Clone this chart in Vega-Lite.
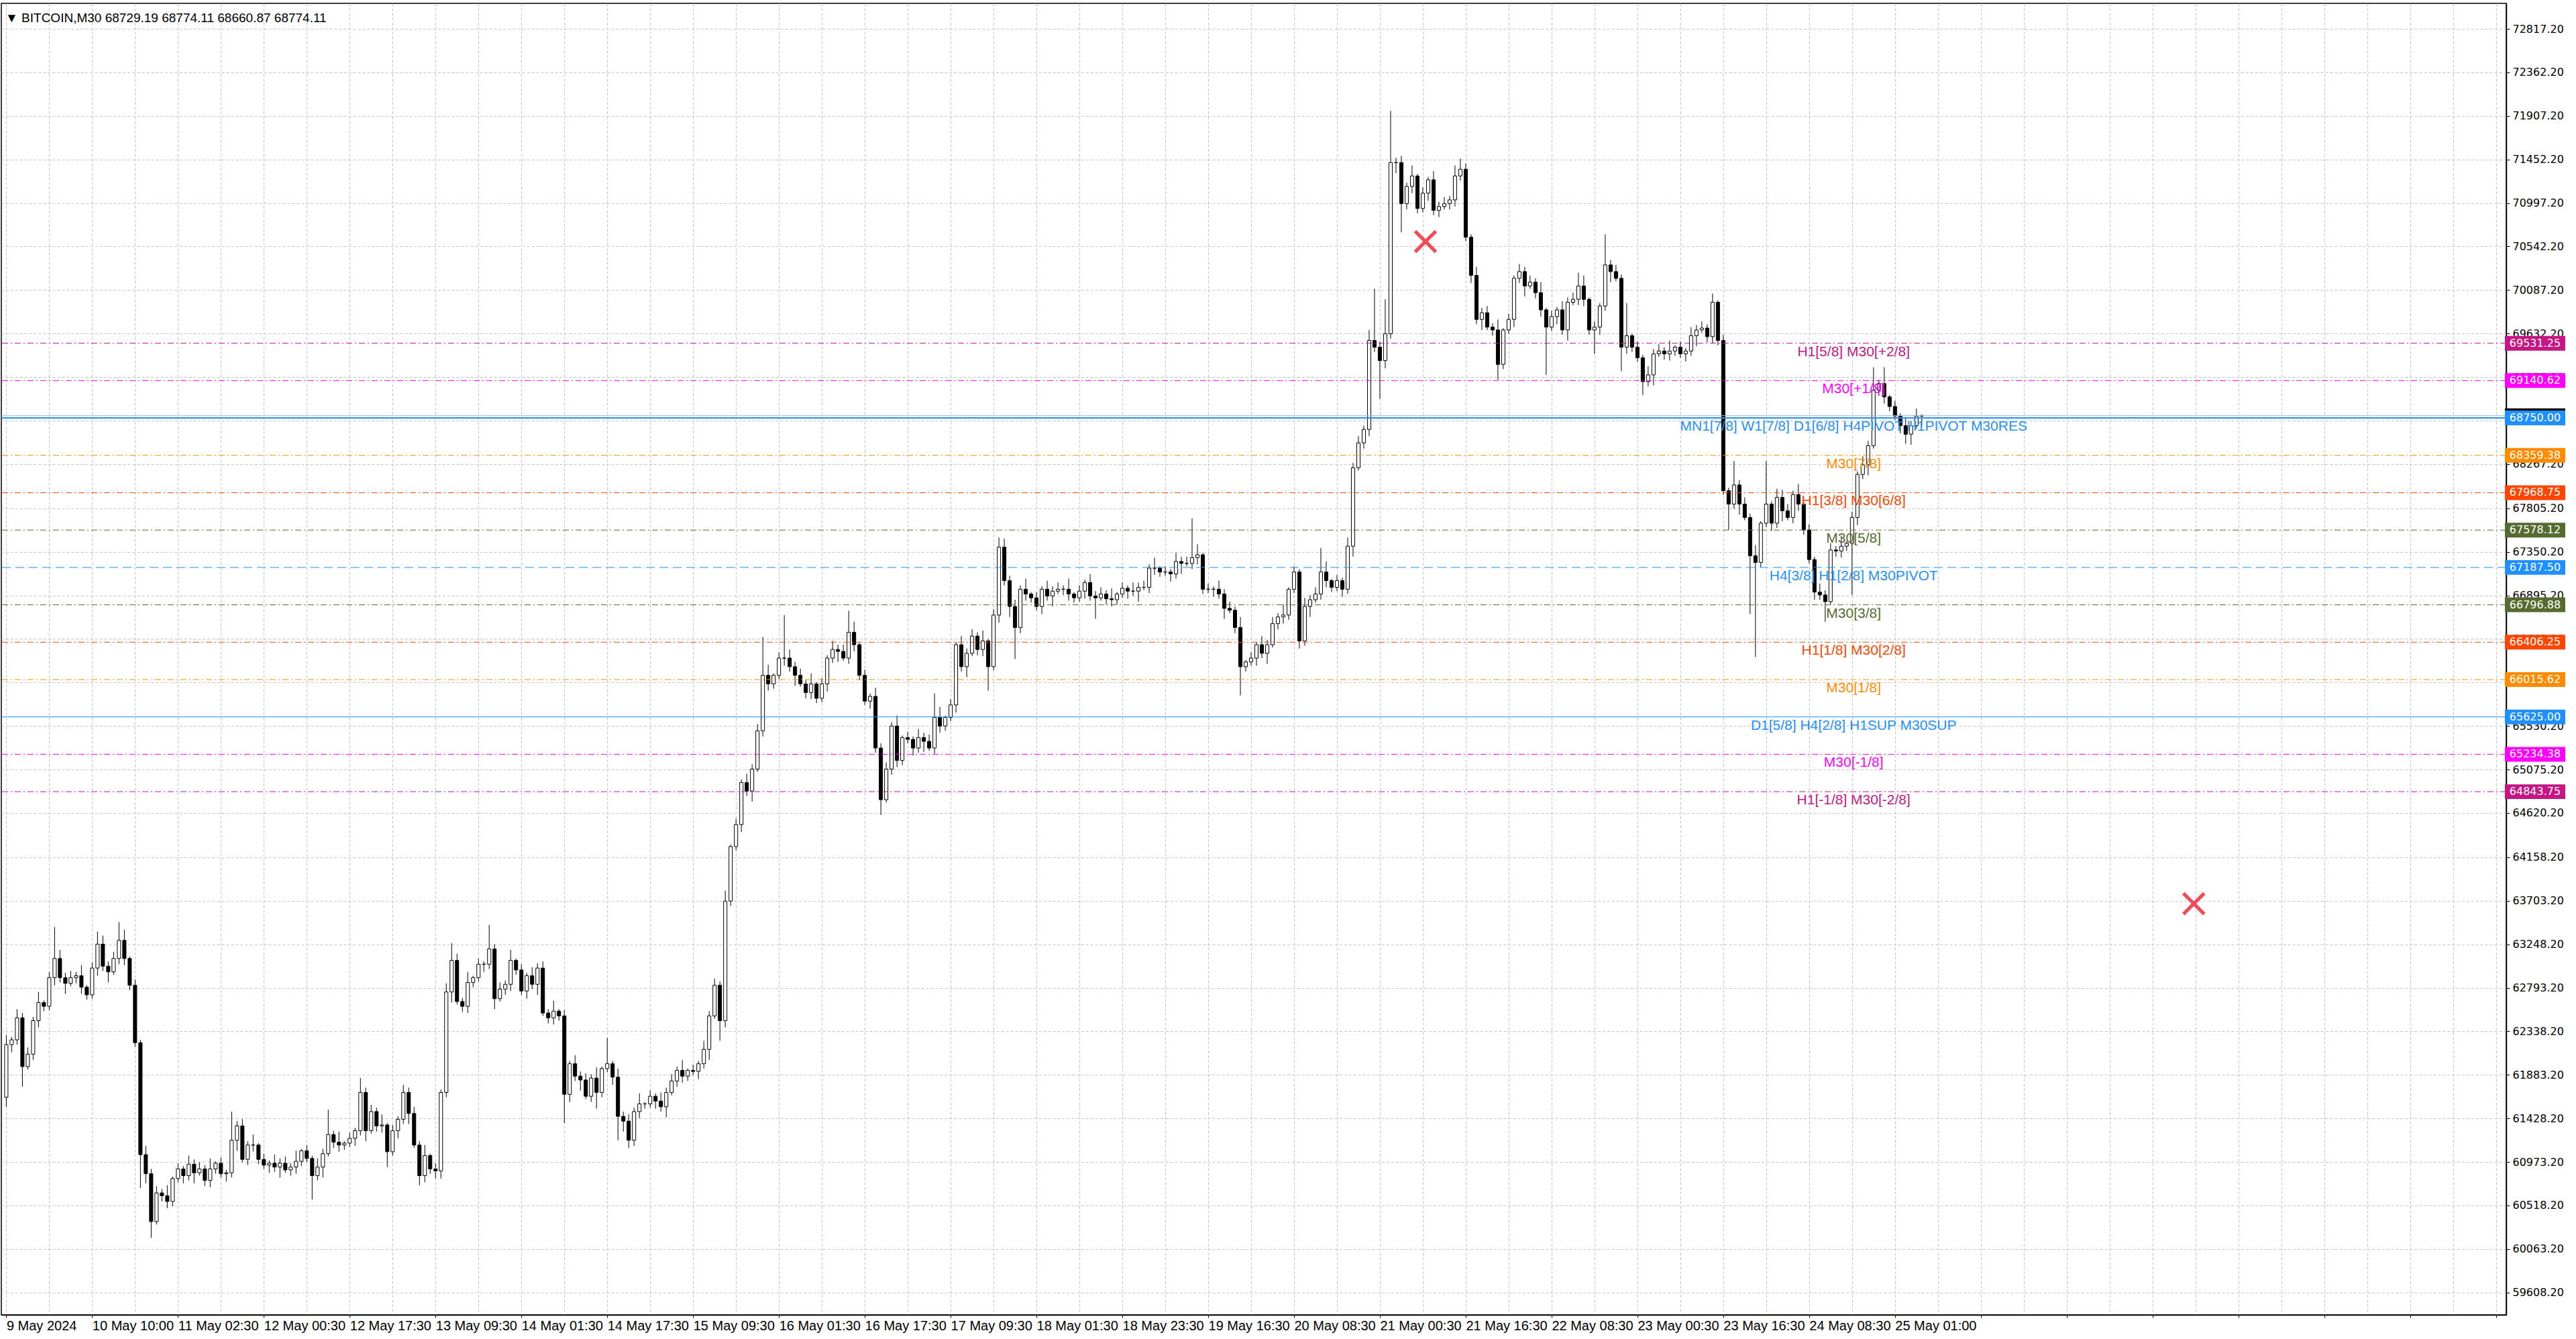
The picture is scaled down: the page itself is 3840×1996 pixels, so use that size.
{
  "$schema": "https://vega.github.io/schema/vega-lite/v6.json",
  "width": 3734,
  "height": 1955,
  "autosize": {"type": "none"},
  "padding": {"left": 2, "top": 5, "right": 104, "bottom": 36},
  "background": "white",
  "title": {
    "text": "▼ BITCOIN,M30  68729.19 68774.11 68660.87 68774.11",
    "anchor": "start",
    "frame": "group",
    "orient": "top",
    "offset": -24,
    "baseline": "alphabetic",
    "dx": 6,
    "dy": 23,
    "font": "Liberation Sans Narrow, Liberation Sans",
    "fontSize": 19,
    "fontWeight": "normal",
    "color": "#000"
  },
  "config": {
    "view": {"stroke": "#000", "strokeWidth": 1.5}
  },
  "datasets": {
    "candles": [
      {"j":0,"o":61650,"h":62300,"l":61550,"c":62200},
      {"j":1,"o":62200,"h":62280,"l":62120,"c":62250},
      {"j":2,"o":62250,"h":62570,"l":62200,"c":62480},
      {"j":3,"o":62480,"h":62530,"l":61760,"c":61970},
      {"j":4,"o":61970,"h":62170,"l":61940,"c":62100},
      {"j":5,"o":62100,"h":62490,"l":62040,"c":62450},
      {"j":6,"o":62450,"h":62750,"l":62380,"c":62640},
      {"j":7,"o":62640,"h":62660,"l":62550,"c":62600},
      {"j":8,"o":62600,"h":62960,"l":62560,"c":62900},
      {"j":9,"o":62900,"h":63430,"l":62820,"c":63100},
      {"j":10,"o":63100,"h":63190,"l":62850,"c":62900},
      {"j":11,"o":62900,"h":62950,"l":62730,"c":62840},
      {"j":12,"o":62840,"h":62970,"l":62810,"c":62900},
      {"j":13,"o":62900,"h":62960,"l":62840,"c":62920},
      {"j":14,"o":62920,"h":63030,"l":62730,"c":62800},
      {"j":15,"o":62800,"h":62820,"l":62670,"c":62720},
      {"j":16,"o":62720,"h":63060,"l":62680,"c":63000},
      {"j":17,"o":63000,"h":63380,"l":62920,"c":63250},
      {"j":18,"o":63250,"h":63340,"l":62970,"c":63020},
      {"j":19,"o":63020,"h":63070,"l":62850,"c":62960},
      {"j":20,"o":62960,"h":63170,"l":62930,"c":63100},
      {"j":21,"o":63100,"h":63480,"l":63040,"c":63290},
      {"j":22,"o":63290,"h":63400,"l":63030,"c":63100},
      {"j":23,"o":63100,"h":63120,"l":62770,"c":62820},
      {"j":24,"o":62820,"h":62880,"l":62180,"c":62220},
      {"j":25,"o":62220,"h":62250,"l":60700,"c":61050},
      {"j":26,"o":61050,"h":61140,"l":60750,"c":60850},
      {"j":27,"o":60850,"h":60900,"l":60180,"c":60350},
      {"j":28,"o":60350,"h":60720,"l":60320,"c":60650},
      {"j":29,"o":60650,"h":60690,"l":60560,"c":60620},
      {"j":30,"o":60620,"h":60730,"l":60490,"c":60560},
      {"j":31,"o":60560,"h":60820,"l":60510,"c":60800},
      {"j":32,"o":60800,"h":60960,"l":60760,"c":60900},
      {"j":33,"o":60900,"h":60930,"l":60750,"c":60830},
      {"j":34,"o":60830,"h":61040,"l":60780,"c":60950},
      {"j":35,"o":60950,"h":61000,"l":60750,"c":60860},
      {"j":36,"o":60860,"h":60970,"l":60830,"c":60900},
      {"j":37,"o":60900,"h":60940,"l":60720,"c":60780},
      {"j":38,"o":60780,"h":61010,"l":60710,"c":60900},
      {"j":39,"o":60900,"h":60980,"l":60850,"c":60960},
      {"j":40,"o":60960,"h":61020,"l":60810,"c":60850},
      {"j":41,"o":60850,"h":60890,"l":60770,"c":60860},
      {"j":42,"o":60860,"h":61500,"l":60810,"c":61200},
      {"j":43,"o":61200,"h":61400,"l":61090,"c":61350},
      {"j":44,"o":61350,"h":61420,"l":60970,"c":61000},
      {"j":45,"o":61000,"h":61190,"l":60940,"c":61150},
      {"j":46,"o":61150,"h":61260,"l":61080,"c":61150},
      {"j":47,"o":61150,"h":61170,"l":60950,"c":61000},
      {"j":48,"o":61000,"h":61060,"l":60900,"c":60940},
      {"j":49,"o":60940,"h":60990,"l":60860,"c":60960},
      {"j":50,"o":60960,"h":61050,"l":60870,"c":60920},
      {"j":51,"o":60920,"h":61010,"l":60810,"c":60960},
      {"j":52,"o":60960,"h":61030,"l":60860,"c":60890},
      {"j":53,"o":60890,"h":60960,"l":60830,"c":60920},
      {"j":54,"o":60920,"h":61090,"l":60850,"c":60980},
      {"j":55,"o":60980,"h":61110,"l":60930,"c":61090},
      {"j":56,"o":61090,"h":61150,"l":60970,"c":61010},
      {"j":57,"o":61010,"h":61040,"l":60580,"c":60830},
      {"j":58,"o":60830,"h":61010,"l":60780,"c":60920},
      {"j":59,"o":60920,"h":61110,"l":60810,"c":61060},
      {"j":60,"o":61060,"h":61520,"l":61030,"c":61260},
      {"j":61,"o":61260,"h":61300,"l":61120,"c":61180},
      {"j":62,"o":61180,"h":61290,"l":61080,"c":61150},
      {"j":63,"o":61150,"h":61190,"l":61100,"c":61170},
      {"j":64,"o":61170,"h":61280,"l":61130,"c":61220},
      {"j":65,"o":61220,"h":61330,"l":61140,"c":61300},
      {"j":66,"o":61300,"h":61850,"l":61250,"c":61700},
      {"j":67,"o":61700,"h":61750,"l":61190,"c":61300},
      {"j":68,"o":61300,"h":61570,"l":61270,"c":61500},
      {"j":69,"o":61500,"h":61540,"l":61290,"c":61350},
      {"j":70,"o":61350,"h":61470,"l":61280,"c":61360},
      {"j":71,"o":61360,"h":61380,"l":60920,"c":61080},
      {"j":72,"o":61080,"h":61360,"l":61040,"c":61300},
      {"j":73,"o":61300,"h":61450,"l":61220,"c":61420},
      {"j":74,"o":61420,"h":61780,"l":61370,"c":61700},
      {"j":75,"o":61700,"h":61750,"l":61370,"c":61480},
      {"j":76,"o":61480,"h":61550,"l":61120,"c":61150},
      {"j":77,"o":61150,"h":61190,"l":60730,"c":60830},
      {"j":78,"o":60830,"h":61150,"l":60760,"c":61040},
      {"j":79,"o":61040,"h":61060,"l":60850,"c":60900},
      {"j":80,"o":60900,"h":60960,"l":60800,"c":60880},
      {"j":81,"o":60880,"h":61730,"l":60800,"c":61700},
      {"j":82,"o":61700,"h":62840,"l":61650,"c":62750},
      {"j":83,"o":62750,"h":63260,"l":62640,"c":63080},
      {"j":84,"o":63080,"h":63150,"l":62620,"c":62650},
      {"j":85,"o":62650,"h":62690,"l":62540,"c":62600},
      {"j":86,"o":62600,"h":62960,"l":62530,"c":62850},
      {"j":87,"o":62850,"h":62920,"l":62800,"c":62900},
      {"j":88,"o":62900,"h":63100,"l":62860,"c":63040},
      {"j":89,"o":63040,"h":63070,"l":62960,"c":63040},
      {"j":90,"o":63040,"h":63450,"l":62990,"c":63200},
      {"j":91,"o":63200,"h":63250,"l":62570,"c":62680},
      {"j":92,"o":62680,"h":62850,"l":62650,"c":62780},
      {"j":93,"o":62780,"h":62870,"l":62720,"c":62830},
      {"j":94,"o":62830,"h":63190,"l":62760,"c":63080},
      {"j":95,"o":63080,"h":63100,"l":62930,"c":62980},
      {"j":96,"o":62980,"h":63040,"l":62720,"c":62760},
      {"j":97,"o":62760,"h":62950,"l":62680,"c":62920},
      {"j":98,"o":62920,"h":63010,"l":62780,"c":62830},
      {"j":99,"o":62830,"h":63050,"l":62720,"c":63000},
      {"j":100,"o":63000,"h":63070,"l":62500,"c":62530},
      {"j":101,"o":62530,"h":62570,"l":62420,"c":62480},
      {"j":102,"o":62480,"h":62660,"l":62410,"c":62550},
      {"j":103,"o":62550,"h":62570,"l":62450,"c":62500},
      {"j":104,"o":62500,"h":62560,"l":61380,"c":61680},
      {"j":105,"o":61680,"h":62030,"l":61600,"c":62000},
      {"j":106,"o":62000,"h":62090,"l":61820,"c":61870},
      {"j":107,"o":61870,"h":61920,"l":61720,"c":61830},
      {"j":108,"o":61830,"h":61900,"l":61630,"c":61660},
      {"j":109,"o":61660,"h":61890,"l":61600,"c":61850},
      {"j":110,"o":61850,"h":61960,"l":61530,"c":61700},
      {"j":111,"o":61700,"h":61970,"l":61650,"c":61950},
      {"j":112,"o":61950,"h":62270,"l":61910,"c":62000},
      {"j":113,"o":62000,"h":62030,"l":61780,"c":61860},
      {"j":114,"o":61860,"h":61950,"l":61200,"c":61450},
      {"j":115,"o":61450,"h":61500,"l":61290,"c":61400},
      {"j":116,"o":61400,"h":61470,"l":61120,"c":61200},
      {"j":117,"o":61200,"h":61540,"l":61140,"c":61500},
      {"j":118,"o":61500,"h":61690,"l":61430,"c":61580},
      {"j":119,"o":61580,"h":61600,"l":61530,"c":61580},
      {"j":120,"o":61580,"h":61720,"l":61540,"c":61660},
      {"j":121,"o":61660,"h":61690,"l":61530,"c":61610},
      {"j":122,"o":61610,"h":61700,"l":61500,"c":61550},
      {"j":123,"o":61550,"h":61750,"l":61440,"c":61700},
      {"j":124,"o":61700,"h":61890,"l":61670,"c":61820},
      {"j":125,"o":61820,"h":61970,"l":61760,"c":61930},
      {"j":126,"o":61930,"h":62040,"l":61800,"c":61870},
      {"j":127,"o":61870,"h":61950,"l":61820,"c":61930},
      {"j":128,"o":61930,"h":61990,"l":61880,"c":61920},
      {"j":129,"o":61920,"h":62030,"l":61840,"c":62000},
      {"j":130,"o":62000,"h":62240,"l":61950,"c":62150},
      {"j":131,"o":62150,"h":62550,"l":62040,"c":62500},
      {"j":132,"o":62500,"h":62890,"l":62470,"c":62820},
      {"j":133,"o":62820,"h":62860,"l":62240,"c":62450},
      {"j":134,"o":62450,"h":63810,"l":62380,"c":63700},
      {"j":135,"o":63700,"h":64290,"l":63650,"c":64270},
      {"j":136,"o":64270,"h":64560,"l":64230,"c":64500},
      {"j":137,"o":64500,"h":64970,"l":64420,"c":64940},
      {"j":138,"o":64940,"h":65030,"l":64800,"c":64850},
      {"j":139,"o":64850,"h":65130,"l":64740,"c":65080},
      {"j":140,"o":65080,"h":65550,"l":65050,"c":65480},
      {"j":141,"o":65480,"h":66460,"l":65420,"c":66060},
      {"j":142,"o":66060,"h":66170,"l":65900,"c":65970},
      {"j":143,"o":65970,"h":66080,"l":65920,"c":66060},
      {"j":144,"o":66060,"h":66300,"l":66020,"c":66240},
      {"j":145,"o":66240,"h":66690,"l":66160,"c":66240},
      {"j":146,"o":66240,"h":66330,"l":66100,"c":66150},
      {"j":147,"o":66150,"h":66200,"l":65950,"c":66060},
      {"j":148,"o":66060,"h":66130,"l":65940,"c":65970},
      {"j":149,"o":65970,"h":66010,"l":65820,"c":65880},
      {"j":150,"o":65880,"h":66080,"l":65810,"c":65970},
      {"j":151,"o":65970,"h":65990,"l":65770,"c":65820},
      {"j":152,"o":65820,"h":66030,"l":65780,"c":65970},
      {"j":153,"o":65970,"h":66270,"l":65890,"c":66240},
      {"j":154,"o":66240,"h":66420,"l":66190,"c":66330},
      {"j":155,"o":66330,"h":66380,"l":66200,"c":66310},
      {"j":156,"o":66310,"h":66380,"l":66210,"c":66240},
      {"j":157,"o":66240,"h":66735,"l":66180,"c":66510},
      {"j":158,"o":66510,"h":66620,"l":66310,"c":66380},
      {"j":159,"o":66380,"h":66400,"l":66010,"c":66060},
      {"j":160,"o":66060,"h":66120,"l":65750,"c":65790},
      {"j":161,"o":65790,"h":65870,"l":65710,"c":65840},
      {"j":162,"o":65840,"h":65930,"l":65250,"c":65300},
      {"j":163,"o":65300,"h":65350,"l":64600,"c":64760},
      {"j":164,"o":64760,"h":65150,"l":64730,"c":65080},
      {"j":165,"o":65080,"h":65570,"l":65020,"c":65530},
      {"j":166,"o":65530,"h":65640,"l":65100,"c":65170},
      {"j":167,"o":65170,"h":65430,"l":65120,"c":65410},
      {"j":168,"o":65410,"h":65470,"l":65350,"c":65390},
      {"j":169,"o":65390,"h":65420,"l":65220,"c":65300},
      {"j":170,"o":65300,"h":65500,"l":65250,"c":65410},
      {"j":171,"o":65410,"h":65460,"l":65260,"c":65370},
      {"j":172,"o":65370,"h":65440,"l":65270,"c":65300},
      {"j":173,"o":65300,"h":65870,"l":65240,"c":65620},
      {"j":174,"o":65620,"h":65730,"l":65460,"c":65530},
      {"j":175,"o":65530,"h":65640,"l":65480,"c":65620},
      {"j":176,"o":65620,"h":65810,"l":65580,"c":65750},
      {"j":177,"o":65750,"h":66410,"l":65670,"c":66380},
      {"j":178,"o":66380,"h":66470,"l":66100,"c":66150},
      {"j":179,"o":66150,"h":66340,"l":66040,"c":66290},
      {"j":180,"o":66290,"h":66540,"l":66260,"c":66470},
      {"j":181,"o":66470,"h":66510,"l":66270,"c":66330},
      {"j":182,"o":66330,"h":66530,"l":66260,"c":66420},
      {"j":183,"o":66420,"h":66440,"l":65900,"c":66150},
      {"j":184,"o":66150,"h":66750,"l":66110,"c":66690},
      {"j":185,"o":66690,"h":67500,"l":66610,"c":67400},
      {"j":186,"o":67400,"h":67490,"l":67000,"c":67050},
      {"j":187,"o":67050,"h":67100,"l":66670,"c":66780},
      {"j":188,"o":66780,"h":66850,"l":66230,"c":66560},
      {"j":189,"o":66560,"h":67000,"l":66500,"c":66960},
      {"j":190,"o":66960,"h":67070,"l":66840,"c":66910},
      {"j":191,"o":66910,"h":66930,"l":66820,"c":66870},
      {"j":192,"o":66870,"h":66930,"l":66740,"c":66780},
      {"j":193,"o":66780,"h":66990,"l":66700,"c":66960},
      {"j":194,"o":66960,"h":67050,"l":66840,"c":66890},
      {"j":195,"o":66890,"h":66990,"l":66780,"c":66940},
      {"j":196,"o":66940,"h":67030,"l":66910,"c":66960},
      {"j":197,"o":66960,"h":67000,"l":66900,"c":66960},
      {"j":198,"o":66960,"h":67070,"l":66840,"c":66910},
      {"j":199,"o":66910,"h":66930,"l":66820,"c":66870},
      {"j":200,"o":66870,"h":67000,"l":66830,"c":66940},
      {"j":201,"o":66940,"h":67060,"l":66860,"c":67030},
      {"j":202,"o":67030,"h":67120,"l":66840,"c":66890},
      {"j":203,"o":66890,"h":66940,"l":66650,"c":66870},
      {"j":204,"o":66870,"h":66980,"l":66840,"c":66910},
      {"j":205,"o":66910,"h":66950,"l":66800,"c":66860},
      {"j":206,"o":66860,"h":66970,"l":66780,"c":66850},
      {"j":207,"o":66850,"h":66930,"l":66800,"c":66910},
      {"j":208,"o":66910,"h":67030,"l":66870,"c":66970},
      {"j":209,"o":66970,"h":67000,"l":66860,"c":66940},
      {"j":210,"o":66940,"h":67030,"l":66890,"c":66940},
      {"j":211,"o":66940,"h":67030,"l":66830,"c":66980},
      {"j":212,"o":66980,"h":67050,"l":66950,"c":66980},
      {"j":213,"o":66980,"h":67220,"l":66920,"c":67180},
      {"j":214,"o":67180,"h":67290,"l":67110,"c":67180},
      {"j":215,"o":67180,"h":67200,"l":67090,"c":67140},
      {"j":216,"o":67140,"h":67200,"l":67100,"c":67140},
      {"j":217,"o":67140,"h":67170,"l":67040,"c":67120},
      {"j":218,"o":67120,"h":67340,"l":67070,"c":67250},
      {"j":219,"o":67250,"h":67300,"l":67120,"c":67230},
      {"j":220,"o":67230,"h":67300,"l":67200,"c":67230},
      {"j":221,"o":67230,"h":67700,"l":67170,"c":67290},
      {"j":222,"o":67290,"h":67430,"l":67220,"c":67320},
      {"j":223,"o":67320,"h":67340,"l":66910,"c":66960},
      {"j":224,"o":66960,"h":67020,"l":66920,"c":66960},
      {"j":225,"o":66960,"h":66990,"l":66880,"c":66960},
      {"j":226,"o":66960,"h":67050,"l":66860,"c":66910},
      {"j":227,"o":66910,"h":66960,"l":66650,"c":66760},
      {"j":228,"o":66760,"h":66830,"l":66710,"c":66740},
      {"j":229,"o":66740,"h":66780,"l":66500,"c":66560},
      {"j":230,"o":66560,"h":66670,"l":65850,"c":66150},
      {"j":231,"o":66150,"h":66220,"l":66100,"c":66200},
      {"j":232,"o":66200,"h":66300,"l":66160,"c":66240},
      {"j":233,"o":66240,"h":66410,"l":66160,"c":66380},
      {"j":234,"o":66380,"h":66470,"l":66240,"c":66290},
      {"j":235,"o":66290,"h":66430,"l":66180,"c":66380},
      {"j":236,"o":66380,"h":66670,"l":66350,"c":66600},
      {"j":237,"o":66600,"h":66710,"l":66540,"c":66670},
      {"j":238,"o":66670,"h":66800,"l":66600,"c":66690},
      {"j":239,"o":66690,"h":66980,"l":66640,"c":66960},
      {"j":240,"o":66960,"h":67200,"l":66920,"c":67140},
      {"j":241,"o":67140,"h":67170,"l":66340,"c":66420},
      {"j":242,"o":66420,"h":66870,"l":66370,"c":66780},
      {"j":243,"o":66780,"h":66900,"l":66670,"c":66850},
      {"j":244,"o":66850,"h":66980,"l":66820,"c":66910},
      {"j":245,"o":66910,"h":67390,"l":66850,"c":67140},
      {"j":246,"o":67140,"h":67250,"l":66980,"c":67050},
      {"j":247,"o":67050,"h":67070,"l":66930,"c":66980},
      {"j":248,"o":66980,"h":67110,"l":66940,"c":67050},
      {"j":249,"o":67050,"h":67080,"l":66880,"c":66960},
      {"j":250,"o":66960,"h":67500,"l":66910,"c":67410},
      {"j":251,"o":67410,"h":68280,"l":67300,"c":68230},
      {"j":252,"o":68230,"h":68560,"l":68200,"c":68490},
      {"j":253,"o":68490,"h":68670,"l":68430,"c":68630},
      {"j":254,"o":68630,"h":69670,"l":68560,"c":69560},
      {"j":255,"o":69560,"h":70100,"l":69440,"c":69490},
      {"j":256,"o":69490,"h":69550,"l":68950,"c":69350},
      {"j":257,"o":69350,"h":69990,"l":69270,"c":69630},
      {"j":258,"o":69630,"h":71960,"l":69580,"c":71420},
      {"j":259,"o":71420,"h":71470,"l":71310,"c":71420},
      {"j":260,"o":71420,"h":71490,"l":70690,"c":70990},
      {"j":261,"o":70990,"h":71210,"l":70930,"c":71170},
      {"j":262,"o":71170,"h":71390,"l":71100,"c":71280},
      {"j":263,"o":71280,"h":71300,"l":70890,"c":70940},
      {"j":264,"o":70940,"h":71160,"l":70900,"c":71100},
      {"j":265,"o":71100,"h":71270,"l":71020,"c":71240},
      {"j":266,"o":71240,"h":71330,"l":70870,"c":70920},
      {"j":267,"o":70920,"h":71010,"l":70850,"c":70960},
      {"j":268,"o":70960,"h":71060,"l":70930,"c":70990},
      {"j":269,"o":70990,"h":71070,"l":70930,"c":71030},
      {"j":270,"o":71030,"h":71390,"l":70960,"c":71280},
      {"j":271,"o":71280,"h":71460,"l":71230,"c":71350},
      {"j":272,"o":71350,"h":71410,"l":70600,"c":70640},
      {"j":273,"o":70640,"h":70670,"l":70160,"c":70240},
      {"j":274,"o":70240,"h":70330,"l":69730,"c":69780},
      {"j":275,"o":69780,"h":69900,"l":69670,"c":69850},
      {"j":276,"o":69850,"h":69920,"l":69670,"c":69700},
      {"j":277,"o":69700,"h":69740,"l":69610,"c":69670},
      {"j":278,"o":69670,"h":69780,"l":69150,"c":69310},
      {"j":279,"o":69310,"h":69690,"l":69260,"c":69670},
      {"j":280,"o":69670,"h":69840,"l":69630,"c":69780},
      {"j":281,"o":69780,"h":70240,"l":69700,"c":70210},
      {"j":282,"o":70210,"h":70360,"l":70160,"c":70280},
      {"j":283,"o":70280,"h":70330,"l":70020,"c":70130},
      {"j":284,"o":70130,"h":70240,"l":70100,"c":70170},
      {"j":285,"o":70170,"h":70210,"l":70000,"c":70060},
      {"j":286,"o":70060,"h":70170,"l":69810,"c":69880},
      {"j":287,"o":69880,"h":69900,"l":69200,"c":69700},
      {"j":288,"o":69700,"h":69870,"l":69660,"c":69810},
      {"j":289,"o":69810,"h":69910,"l":69730,"c":69880},
      {"j":290,"o":69880,"h":69970,"l":69620,"c":69670},
      {"j":291,"o":69670,"h":70010,"l":69560,"c":69960},
      {"j":292,"o":69960,"h":70060,"l":69930,"c":69990},
      {"j":293,"o":69990,"h":70270,"l":69930,"c":70130},
      {"j":294,"o":70130,"h":70240,"l":69920,"c":69990},
      {"j":295,"o":69990,"h":70010,"l":69620,"c":69670},
      {"j":296,"o":69670,"h":69760,"l":69420,"c":69700},
      {"j":297,"o":69700,"h":69950,"l":69620,"c":69920},
      {"j":298,"o":69920,"h":70670,"l":69870,"c":70350},
      {"j":299,"o":70350,"h":70400,"l":70170,"c":70280},
      {"j":300,"o":70280,"h":70350,"l":70180,"c":70210},
      {"j":301,"o":70210,"h":70250,"l":69240,"c":69490},
      {"j":302,"o":69490,"h":69950,"l":69420,"c":69610},
      {"j":303,"o":69610,"h":69630,"l":69440,"c":69490},
      {"j":304,"o":69490,"h":69550,"l":69340,"c":69380},
      {"j":305,"o":69380,"h":69410,"l":68990,"c":69130},
      {"j":306,"o":69130,"h":69290,"l":69080,"c":69200},
      {"j":307,"o":69200,"h":69470,"l":69090,"c":69420},
      {"j":308,"o":69420,"h":69520,"l":69390,"c":69450},
      {"j":309,"o":69450,"h":69490,"l":69360,"c":69420},
      {"j":310,"o":69420,"h":69560,"l":69350,"c":69450},
      {"j":311,"o":69450,"h":69510,"l":69400,"c":69490},
      {"j":312,"o":69490,"h":69550,"l":69380,"c":69420},
      {"j":313,"o":69420,"h":69480,"l":69340,"c":69450},
      {"j":314,"o":69450,"h":69700,"l":69400,"c":69610},
      {"j":315,"o":69610,"h":69720,"l":69500,"c":69670},
      {"j":316,"o":69670,"h":69760,"l":69640,"c":69690},
      {"j":317,"o":69690,"h":69730,"l":69540,"c":69600},
      {"j":318,"o":69600,"h":70050,"l":69530,"c":69960},
      {"j":319,"o":69960,"h":69980,"l":69510,"c":69560},
      {"j":320,"o":69560,"h":69620,"l":67950,"c":67990},
      {"j":321,"o":67990,"h":68020,"l":67580,"c":67850},
      {"j":322,"o":67850,"h":68300,"l":67800,"c":68050},
      {"j":323,"o":68050,"h":68100,"l":67740,"c":67850},
      {"j":324,"o":67850,"h":67920,"l":67680,"c":67710},
      {"j":325,"o":67710,"h":67750,"l":66700,"c":67310},
      {"j":326,"o":67310,"h":67420,"l":66250,"c":67240},
      {"j":327,"o":67240,"h":67670,"l":67190,"c":67650},
      {"j":328,"o":67650,"h":68300,"l":67610,"c":67850},
      {"j":329,"o":67850,"h":67880,"l":67570,"c":67650},
      {"j":330,"o":67650,"h":68010,"l":67600,"c":67920},
      {"j":331,"o":67920,"h":68000,"l":67670,"c":67780},
      {"j":332,"o":67780,"h":67850,"l":67680,"c":67710},
      {"j":333,"o":67710,"h":67990,"l":67650,"c":67950},
      {"j":334,"o":67950,"h":68060,"l":67780,"c":67850},
      {"j":335,"o":67850,"h":67870,"l":67530,"c":67580},
      {"j":336,"o":67580,"h":67640,"l":67230,"c":67270},
      {"j":337,"o":67270,"h":67300,"l":66850,"c":66930},
      {"j":338,"o":66930,"h":67020,"l":66850,"c":66900},
      {"j":339,"o":66900,"h":66950,"l":66620,"c":66830},
      {"j":340,"o":66830,"h":67440,"l":66800,"c":67370},
      {"j":341,"o":67370,"h":67410,"l":67300,"c":67360},
      {"j":342,"o":67360,"h":67520,"l":67290,"c":67410},
      {"j":343,"o":67410,"h":67460,"l":67360,"c":67440},
      {"j":344,"o":67440,"h":67770,"l":66900,"c":67710},
      {"j":345,"o":67710,"h":68190,"l":67630,"c":68160},
      {"j":346,"o":68160,"h":68350,"l":68110,"c":68260},
      {"j":347,"o":68260,"h":68510,"l":68150,"c":68460},
      {"j":348,"o":68460,"h":69280,"l":68430,"c":69040},
      {"j":349,"o":69040,"h":69150,"l":68980,"c":69110},
      {"j":350,"o":69110,"h":69280,"l":68900,"c":68970},
      {"j":351,"o":68970,"h":68990,"l":68820,"c":68870},
      {"j":352,"o":68870,"h":68930,"l":68730,"c":68770},
      {"j":353,"o":68770,"h":68800,"l":68590,"c":68670},
      {"j":354,"o":68670,"h":68760,"l":68480,"c":68580},
      {"j":355,"o":68580,"h":68720,"l":68470,"c":68670},
      {"j":356,"o":68670,"h":68850,"l":68640,"c":68770},
      {"j":357,"o":68770,"h":68790,"l":68660,"c":68774}
    ],
    "levels": [
      {"p": 68774.11, "name": "", "m": "bid"},
      {"p": 69531.25, "name": "H1[5/8] M30[+2/8]", "m": "+2/8"},
      {"p": 69140.62, "name": "M30[+1/8]", "m": "+1/8"},
      {"p": 68750.0, "name": "MN1[7/8] W1[7/8] D1[6/8] H4PIVOT H1PIVOT M30RES", "m": "8/8"},
      {"p": 68359.38, "name": "M30[7/8]", "m": "7/8"},
      {"p": 67968.75, "name": "H1[3/8] M30[6/8]", "m": "6/8"},
      {"p": 67578.12, "name": "M30[5/8]", "m": "5/8"},
      {"p": 67187.5, "name": "H4[3/8] H1[2/8] M30PIVOT", "m": "4/8"},
      {"p": 66796.88, "name": "M30[3/8]", "m": "3/8"},
      {"p": 66406.25, "name": "H1[1/8] M30[2/8]", "m": "2/8"},
      {"p": 66015.62, "name": "M30[1/8]", "m": "1/8"},
      {"p": 65625.0, "name": "D1[5/8] H4[2/8] H1SUP M30SUP", "m": "0/8"},
      {"p": 65234.38, "name": "M30[-1/8]", "m": "-1/8"},
      {"p": 64843.75, "name": "H1[-1/8] M30[-2/8]", "m": "-2/8"}
    ],
    "xmarks": [
      {"j": 264.5, "p": 70594},
      {"j": 407.7, "p": 63673}
    ]
  },
  "layer": [
    {
      "data": {"name": "candles"},
      "mark": {"type": "rule", "color": "#000", "strokeWidth": 1},
      "encoding": {
        "x": {
          "field": "j",
          "type": "quantitative",
          "title": null,
          "scale": {"domain": [-0.3, 465.3], "nice": false, "zero": false},
          "axis": {
            "values": [0,8,16,24,32,40,48,56,64,72,80,88,96,104,112,120,128,136,144,152,160,168,176,184,192,200,208,216,224,232,240,248,256,264,272,280,288,296,304,312,320,328,336,344,352,360,368,376,384,392,400,408,416,424,432,440,448,456,464],
            "labelExpr": "datum.value % 16 === 0 && datum.value <= 352 ? ['9 May 2024','10 May 10:00','11 May 02:30','12 May 00:30','12 May 17:30','13 May 09:30','14 May 01:30','14 May 17:30','15 May 09:30','16 May 01:30','16 May 17:30','17 May 09:30','18 May 01:30','18 May 23:30','19 May 16:30','20 May 08:30','21 May 00:30','21 May 16:30','22 May 08:30','23 May 00:30','23 May 16:30','24 May 08:30','25 May 01:00'][datum.value / 16] : ''",
            "grid": true,
            "gridColor": "#c4c4c4",
            "gridDash": [4, 3],
            "gridWidth": 1,
            "domainColor": "#000",
            "domainWidth": 1.5,
            "tickColor": "#000",
            "tickSize": 4,
            "tickOpacity": {"condition": {"test": "datum.value % 16 === 0", "value": 1}, "value": 0},
            "labelAlign": "left",
            "labelBaseline": "top",
            "labelPadding": 2,
            "labelFont": "Liberation Sans Narrow, Liberation Sans",
            "labelFontSize": 20,
            "labelColor": "#000",
            "labelOverlap": false,
            "labelBound": false,
            "labelFlush": false
          }
        },
        "y": {
          "field": "l",
          "type": "quantitative",
          "title": null,
          "scale": {"domain": [59375, 73084], "nice": false, "zero": false},
          "axis": {
            "orient": "right",
            "values": [72817.2,72362.2,71907.2,71452.2,70997.2,70542.2,70087.2,69632.2,69177.2,68722.2,68267.2,67805.2,67350.2,66895.2,66440.2,65985.2,65530.2,65075.2,64620.2,64158.2,63703.2,63248.2,62793.2,62338.2,61883.2,61428.2,60973.2,60518.2,60063.2,59608.2],
            "format": ".2f",
            "grid": true,
            "gridColor": "#c4c4c4",
            "gridDash": [4, 3],
            "gridWidth": 1,
            "domainColor": "#000",
            "domainWidth": 1.5,
            "tickColor": "#000",
            "tickSize": 5,
            "labelFont": "DejaVu Sans",
            "labelFontSize": 16,
            "labelColor": "#000",
            "labelPadding": 4,
            "labelOverlap": false,
            "labelBound": false,
            "labelFlush": false
          }
        },
        "y2": {"field": "h"}
      }
    },
    {
      "data": {"name": "candles"},
      "mark": {"type": "bar", "width": 5, "stroke": "#000", "strokeWidth": 1},
      "encoding": {
        "x": {"field": "j", "type": "quantitative", "title": null},
        "y": {"field": "o", "type": "quantitative", "title": null},
        "y2": {"field": "c"},
        "fill": {"condition": {"test": "datum.c < datum.o", "value": "#000"}, "value": "#fff"}
      }
    },
    {
      "data": {"name": "levels"},
      "mark": {"type": "rule"},
      "encoding": {
        "y": {"field": "p", "type": "quantitative", "title": null},
        "color": {
          "field": "m",
          "type": "nominal",
          "legend": null,
          "scale": {
            "domain": ["bid","+2/8","+1/8","8/8","7/8","6/8","5/8","4/8","3/8","2/8","1/8","0/8","-1/8","-2/8"],
            "range": ["#000000","#C71585","#FF00FF","#1E90FF","#FF8C00","#FF4500","#556B2F","#1E90FF","#556B2F","#FF4500","#FF8C00","#1E90FF","#FF00FF","#C71585"]
          },
          "condition": {"test": "datum.m === 'bid'", "value": "#a3bcd6"}
        },
        "strokeDash": {
          "field": "m",
          "type": "nominal",
          "legend": null,
          "scale": {
            "domain": ["bid","+2/8","+1/8","8/8","7/8","6/8","5/8","4/8","3/8","2/8","1/8","0/8","-1/8","-2/8"],
            "range": [[1,0],[9,4,2,4],[9,4,2,4],[1,0],[9,4,2,4],[9,4,2,4],[9,4,2,4],[13,7],[9,4,2,4],[9,4,2,4],[9,4,2,4],[1,0],[9,4,2,4],[9,4,2,4]]
          }
        },
        "strokeWidth": {"condition": {"test": "datum.m === '8/8'", "value": 2}, "value": 1}
      }
    },
    {
      "data": {"name": "levels"},
      "transform": [{"filter": "datum.m !== 'bid'"}],
      "mark": {"type": "text", "align": "center", "baseline": "top", "dy": 2, "font": "Liberation Sans", "fontSize": 21},
      "encoding": {
        "x": {"datum": 344.3, "type": "quantitative", "title": null},
        "y": {"field": "p", "type": "quantitative", "title": null},
        "text": {"field": "name"},
        "color": {"field": "m", "type": "nominal", "legend": null}
      }
    },
    {
      "data": {"name": "xmarks"},
      "mark": {
        "type": "point",
        "shape": "M-0.79,-1L0,-0.21L0.79,-1L1,-0.79L0.21,0L1,0.79L0.79,1L0,0.21L-0.79,1L-1,0.79L-0.21,0L-1,-0.79Z",
        "size": 1200,
        "filled": true,
        "fill": "#f24b55",
        "strokeWidth": 0,
        "opacity": 1
      },
      "encoding": {
        "x": {"field": "j", "type": "quantitative", "title": null},
        "y": {"field": "p", "type": "quantitative", "title": null}
      }
    },
    {
      "data": {"name": "levels"},
      "transform": [{"filter": "datum.m === 'bid'"}],
      "layer": [
        {
          "mark": {"type": "point", "shape": "M-1,-0.244H1V0.244H-1Z", "size": 8100, "filled": true, "opacity": 1, "strokeWidth": 0},
          "encoding": {
            "x": {"datum": 471.3, "type": "quantitative", "title": null},
            "y": {"field": "p", "type": "quantitative", "title": null},
            "color": {"field": "m", "type": "nominal", "legend": null}
          }
        },
        {
          "mark": {"type": "text", "align": "center", "baseline": "middle", "font": "DejaVu Sans", "fontSize": 16, "color": "#fff"},
          "encoding": {
            "x": {"datum": 471.3, "type": "quantitative", "title": null},
            "y": {"field": "p", "type": "quantitative", "title": null},
            "text": {"field": "p", "type": "quantitative", "format": ".2f"}
          }
        }
      ]
    },
    {
      "data": {"name": "levels"},
      "transform": [{"filter": "datum.m !== 'bid'"}],
      "layer": [
        {
          "mark": {"type": "point", "shape": "M-1,-0.244H1V0.244H-1Z", "size": 8100, "filled": true, "opacity": 1, "strokeWidth": 0},
          "encoding": {
            "x": {"datum": 471.3, "type": "quantitative", "title": null},
            "y": {"field": "p", "type": "quantitative", "title": null},
            "color": {"field": "m", "type": "nominal", "legend": null}
          }
        },
        {
          "mark": {"type": "text", "align": "center", "baseline": "middle", "font": "DejaVu Sans", "fontSize": 16, "color": "#fff"},
          "encoding": {
            "x": {"datum": 471.3, "type": "quantitative", "title": null},
            "y": {"field": "p", "type": "quantitative", "title": null},
            "text": {"field": "p", "type": "quantitative", "format": ".2f"}
          }
        }
      ]
    }
  ]
}
